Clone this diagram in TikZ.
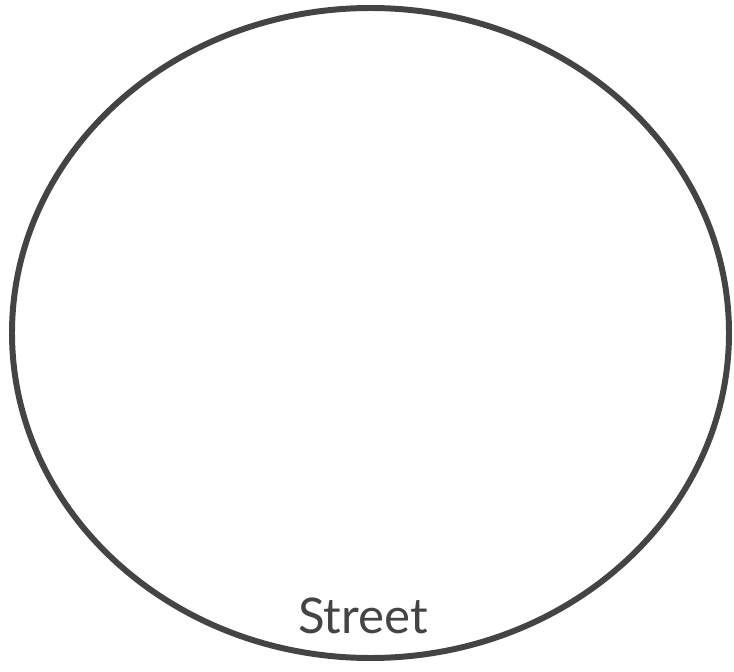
\documentclass[tikz,border=0pt]{standalone}
\usepackage{fontspec}
\newfontfamily\streetfont{Lato}
\usepackage{xcolor}
\usepackage{tikz}
\usetikzlibrary{positioning}

\definecolor{penGray}{HTML}{444444}

\begin{document}
\begin{tikzpicture}[
    boundary/.style={draw=penGray, line width=3.4pt},
    streetlabel/.style={font=\streetfont\fontsize{28}{30}\selectfont, text=penGray, inner sep=0pt},
  ]
  % Frame
  \useasboundingbox (0,0) rectangle (14.68,13.44);

  % Outline
  \draw[boundary] (7.41,6.78) ellipse [x radius=7.17cm, y radius=6.5cm];

  % Label
  \node[streetlabel, anchor=base] (street) at (7.26,0.78) {Street};
\end{tikzpicture}
\end{document}
